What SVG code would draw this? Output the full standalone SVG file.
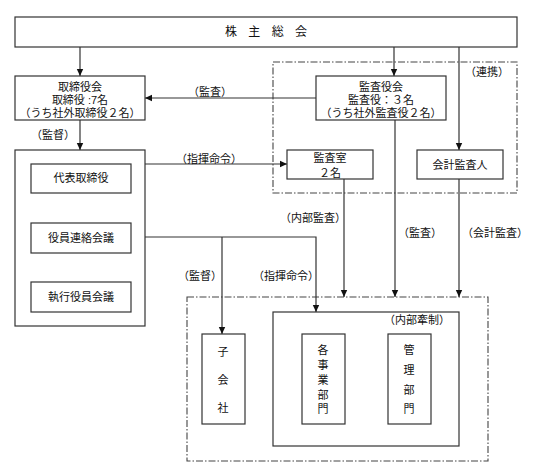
<svg xmlns="http://www.w3.org/2000/svg" width="547" height="463" viewBox="0 0 547 463">
<defs>
<marker id="arr" markerUnits="userSpaceOnUse" markerWidth="8" markerHeight="8" refX="7" refY="4" orient="auto">
<path d="M0,0.8 L7,4 L0,7.2 Z" fill="#111"/>
</marker>
<style>
.box{fill:#fff;stroke:#333;stroke-width:1.2}
.dash{fill:none;stroke:#444;stroke-width:1.1;stroke-dasharray:7 2 1.5 2}
.ln{fill:none;stroke:#333;stroke-width:1.2}
.ar{marker-end:url(#arr)}
text{font-family:"Liberation Sans","Noto Sans CJK JP",sans-serif;font-size:11px;fill:#111;text-anchor:middle}
.big{font-size:12px;letter-spacing:4px}
</style>
</defs>
<rect width="547" height="463" fill="#fff"/>
<g id="groups">
<rect id="audit-area" class="dash" x="273" y="62" width="244" height="131"/>
<rect id="business-area" class="dash" x="187" y="297" width="301" height="164"/>
</g>
<g id="connectors">
<line class="ln ar" x1="80" y1="47" x2="80" y2="76"/>
<line class="ln ar" x1="394" y1="47" x2="394" y2="76"/>
<line class="ln ar" x1="459" y1="47" x2="459" y2="150"/>
<line class="ln ar" x1="316" y1="98" x2="145" y2="98"/>
<line class="ln ar" x1="80" y1="120" x2="80" y2="150"/>
<line class="ln ar" x1="145" y1="164" x2="287" y2="164"/>
<line class="ln ar" x1="80" y1="193" x2="80" y2="223"/>
<line class="ln ar" x1="80" y1="253" x2="80" y2="282"/>
<path class="ln ar" d="M145,237 H316 V312"/>
<line class="ln ar" x1="222" y1="237" x2="222" y2="334"/>
<line class="ln ar" x1="344" y1="179" x2="344" y2="297"/>
<line class="ln ar" x1="395" y1="120" x2="395" y2="297"/>
<line class="ln ar" x1="459" y1="179" x2="459" y2="297"/>
<text x="53" y="139">（監督）</text>
<text x="210" y="96">（監査）</text>
<text x="487" y="76">（連携）</text>
<text x="209" y="163">（指揮命令）</text>
<text x="313" y="222">（内部監査）</text>
<text x="420" y="237">（監査）</text>
<text x="495" y="237">（会計監査）</text>
<text x="200" y="280">（監督）</text>
<text x="286" y="280">（指揮命令）</text>
</g>
<g id="shareholders">
<rect class="box" x="15" y="17" width="502" height="30"/>
<text class="big" x="268" y="36">株 主 総 会</text>
</g>
<g id="board">
<rect class="box" x="15" y="76" width="130" height="44"/>
<text x="80" y="91">取締役会</text>
<text x="80" y="104">取締役 :7名</text>
<text x="80" y="117">（うち社外取締役２名）</text>
</g>
<g id="auditors">
<rect class="box" x="316" y="76" width="130" height="44"/>
<text x="381" y="91">監査役会</text>
<text x="381" y="104">監査役：３名</text>
<text x="381" y="117">（うち社外監査役２名）</text>
</g>
<g id="executive">
<rect class="box" x="15" y="150" width="130" height="176"/>
</g>
<g id="ceo">
<rect class="box" x="31" y="164" width="100" height="29"/>
<text x="81" y="182">代表取締役</text>
</g>
<g id="liaison">
<rect class="box" x="31" y="223" width="100" height="30"/>
<text x="81" y="242">役員連絡会議</text>
</g>
<g id="officers">
<rect class="box" x="31" y="282" width="100" height="30"/>
<text x="81" y="301">執行役員会議</text>
</g>
<g id="audit-office">
<rect class="box" x="287" y="150" width="86" height="29"/>
<text x="330" y="162">監査室</text>
<text x="330" y="177">２名</text>
</g>
<g id="accounting-auditor">
<rect class="box" x="417" y="150" width="86" height="29"/>
<text x="460" y="169">会計監査人</text>
</g>
<g id="subsidiaries">
<rect class="box" x="202" y="334" width="43" height="90"/>
<text x="223" y="356">子</text>
<text x="223" y="384">会</text>
<text x="223" y="412">社</text>
</g>
<g id="internal-control">
<rect class="box" x="273" y="312" width="186" height="134"/>
<text x="417" y="324">（内部牽制）</text>
</g>
<g id="business-divisions">
<rect class="box" x="302" y="334" width="43" height="90"/>
<text x="323" y="354">各</text>
<text x="323" y="369">事</text>
<text x="323" y="384">業</text>
<text x="323" y="399">部</text>
<text x="323" y="413">門</text>
</g>
<g id="admin-division">
<rect class="box" x="388" y="334" width="43" height="90"/>
<text x="409" y="354">管</text>
<text x="409" y="374">理</text>
<text x="409" y="394">部</text>
<text x="409" y="413">門</text>
</g>
</svg>
